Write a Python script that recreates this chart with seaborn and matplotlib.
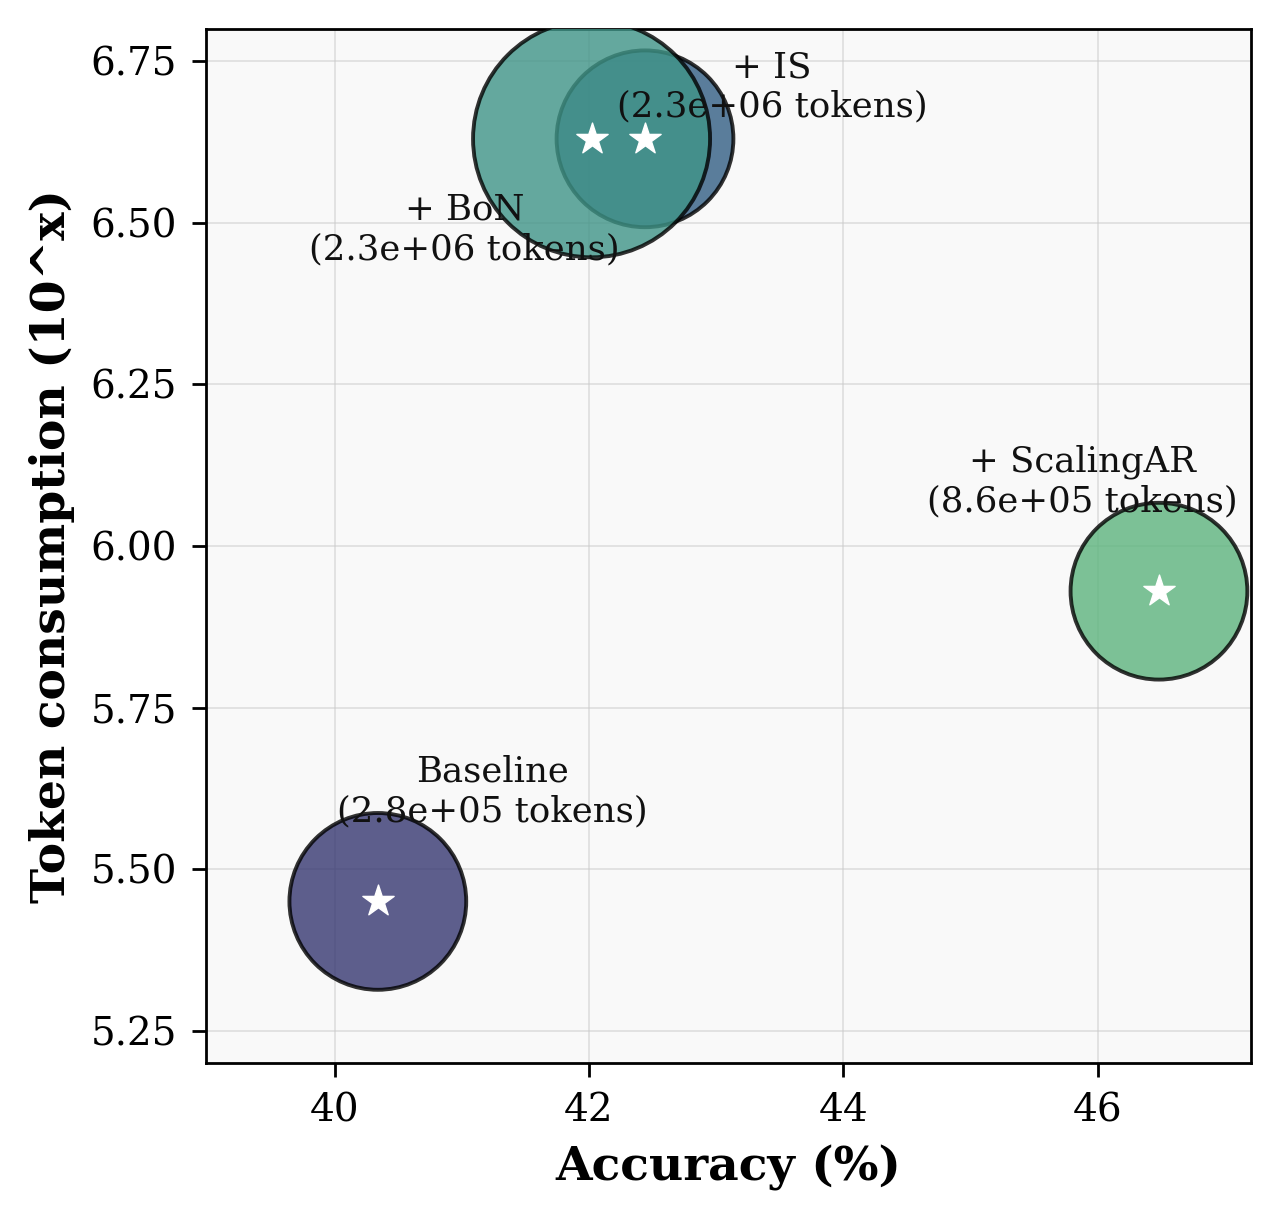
import numpy as np
import pandas as pd
import seaborn as sns
import matplotlib.pyplot as plt

# values
methods = ['Baseline', '+ IS', '+ BoN', '+ ScalingAR']
accuracy = [40.34, 42.44, 42.02, 46.48]
token_exp = [5.45, 6.63, 6.63, 5.93]
tokens = [2.8e5, 2.3e6, 2.3e6, 8.6e5]
bubble = [4050, 4050, 7280, 4050]
colors = ['#363771', '#325e84', '#3f9487', '#5db47d']

df = pd.DataFrame({'method': methods, 'acc': accuracy, 'tok': token_exp,
                   'tokens': tokens, 'bubble': bubble})

sns.set_style('white')
plt.rcParams['font.family'] = ['DejaVu Serif']
plt.rcParams['text.color'] = 'black'
plt.rcParams['axes.labelcolor'] = 'black'
plt.rcParams['xtick.color'] = 'black'
plt.rcParams['ytick.color'] = 'black'

fig, ax = plt.subplots(figsize=(6.4, 6.03), dpi=200)
fig.subplots_adjust(left=0.161, right=0.977, top=0.976, bottom=0.1186)
ax.set_facecolor('#f9f9f9')

sns.scatterplot(data=df, x='acc', y='tok', hue='method', palette=dict(zip(methods, colors)),
                size='bubble', sizes={b: b for b in set(bubble)}, alpha=0.8,
                edgecolor='black', linewidth=1.4, legend=False, ax=ax, zorder=3)
sns.scatterplot(data=df, x='acc', y='tok', marker='*', color='white', s=140,
                edgecolor='white', linewidth=0.5, legend=False, ax=ax, zorder=4)

# label placement (offset from each point, in data units)
offsets = {'Baseline': (0.9, 0.17), '+ IS': (1.0, 0.08),
           '+ BoN': (-1.0, -0.14), '+ ScalingAR': (-0.6, 0.17)}
for _, r in df.iterrows():
    dx, dy = offsets[r['method']]
    ax.text(r['acc'] + dx, r['tok'] + dy, f"{r['method']}\n({r['tokens']:.1e} tokens)",
            ha='center', va='center', fontsize=12.8, color='#111111', zorder=5)

ax.set_xlim(38.99, 47.2)
ax.set_ylim(5.20, 6.80)
ax.set_xticks([40, 42, 44, 46])
ax.set_yticks([5.25, 5.5, 5.75, 6.0, 6.25, 6.5, 6.75])
ax.yaxis.set_major_formatter(plt.FormatStrFormatter('%.2f'))
ax.grid(True, color='#cccccc', alpha=0.6, linewidth=0.6, zorder=0)
ax.set_axisbelow(True)
ax.tick_params(axis='both', labelsize=14, length=5, width=1.0, pad=5.5,
               left=True, bottom=True)
for sp in ax.spines.values():
    sp.set_color('black')
    sp.set_linewidth(1.0)

ax.set_xlabel('Accuracy (%)', fontsize=17, fontweight='bold', labelpad=5.5)
ax.set_ylabel('Token consumption (10^x)', fontsize=17, fontweight='bold', labelpad=5.5)

fig.savefig('out.png', dpi=200)
